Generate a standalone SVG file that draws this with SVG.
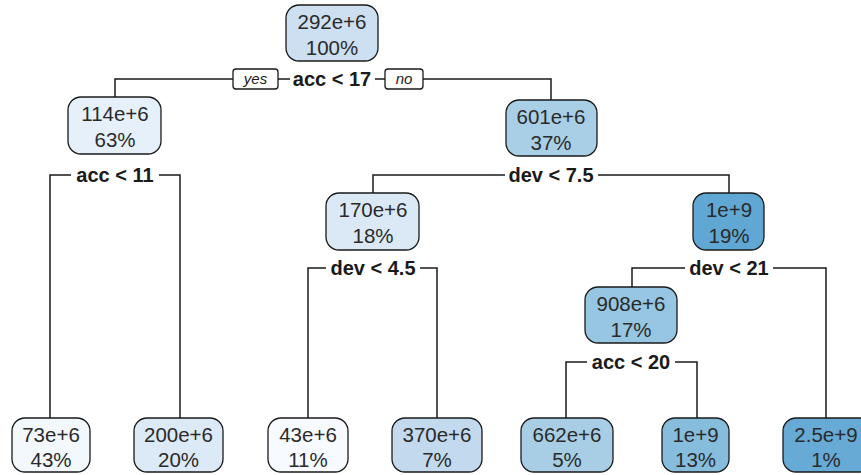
<svg xmlns="http://www.w3.org/2000/svg" width="861" height="475" viewBox="0 0 861 475">
<style>
.box{stroke:#1a1a1a;stroke-width:1.3}
.t{font-family:"Liberation Sans",Arial,sans-serif;font-size:20.5px;fill:#2a2a2a;text-anchor:middle}
.s{font-family:"Liberation Sans",Arial,sans-serif;font-size:20px;font-weight:bold;fill:#1a1a1a;text-anchor:middle}
.yn{font-family:"Liberation Sans",Arial,sans-serif;font-size:15px;font-style:italic;fill:#1a1a1a;text-anchor:middle}
.c{fill:none;stroke:#1a1a1a;stroke-width:1.5}
</style>
<rect width="861" height="475" fill="#ffffff"/>
<g id="connectors">
<path class="c" d="M115,97 V79 H233 M278,79 H290 M375,79 H385 M423,79 H551 V100"/>
<path class="c" d="M50,418 V175 H71 M159,175 H180 V418"/>
<path class="c" d="M373,193 V175 H505 M598,175 H729 V193"/>
<path class="c" d="M308,418 V268 H326 M420,268 H437 V418"/>
<path class="c" d="M632,287 V268 H685 M773,268 H826 V418"/>
<path class="c" d="M566,418 V362 H587 M675,362 H697 V418"/>
<rect class="box" x="233" y="69" width="45" height="20" rx="3" fill="#ffffff"/>
<text class="yn" x="255.5" y="84">yes</text>
<rect class="box" x="385" y="69" width="38" height="20" rx="3" fill="#ffffff"/>
<text class="yn" x="404" y="84">no</text>
<text class="s" x="332" y="86">acc &lt; 17</text>
<text class="s" x="115" y="182">acc &lt; 11</text>
<text class="s" x="551" y="182">dev &lt; 7.5</text>
<text class="s" x="373" y="275">dev &lt; 4.5</text>
<text class="s" x="729" y="275">dev &lt; 21</text>
<text class="s" x="631" y="369">acc &lt; 20</text>
</g>
<g id="n1">
<rect class="box" x="286" y="5" width="92" height="56" rx="13" fill="#cde0f1"/>
<text class="t" x="332" y="29">292e+6</text><text class="t" x="332" y="55">100%</text>
</g>
<g id="n2">
<rect class="box" x="68" y="97" width="93" height="57" rx="13" fill="#e6f0fa"/>
<text class="t" x="115" y="121">114e+6</text><text class="t" x="115" y="147">63%</text>
</g>
<g id="n3">
<rect class="box" x="506" y="100" width="91" height="56" rx="13" fill="#a9cfe6"/>
<text class="t" x="551" y="124">601e+6</text><text class="t" x="551" y="150">37%</text>
</g>
<g id="n6">
<rect class="box" x="326" y="193" width="93" height="57" rx="13" fill="#dbe9f6"/>
<text class="t" x="373" y="217">170e+6</text><text class="t" x="373" y="243">18%</text>
</g>
<g id="n7">
<rect class="box" x="693" y="193" width="71" height="57" rx="13" fill="#61a7d3"/>
<text class="t" x="729" y="217">1e+9</text><text class="t" x="729" y="243">19%</text>
</g>
<g id="n14">
<rect class="box" x="585" y="287" width="92" height="56" rx="13" fill="#96c6e1"/>
<text class="t" x="631" y="311">908e+6</text><text class="t" x="631" y="337">17%</text>
</g>
<g id="n4">
<rect class="box" x="12" y="418" width="78" height="54" rx="13" fill="#f3f8fd"/>
<text class="t" x="51" y="442">73e+6</text><text class="t" x="51" y="467">43%</text>
</g>
<g id="n5">
<rect class="box" x="134" y="418" width="89" height="54" rx="13" fill="#dce9f6"/>
<text class="t" x="178.5" y="442">200e+6</text><text class="t" x="178.5" y="467">20%</text>
</g>
<g id="n12">
<rect class="box" x="268" y="418" width="80" height="54" rx="13" fill="#f7fbff"/>
<text class="t" x="308" y="442">43e+6</text><text class="t" x="308" y="467">11%</text>
</g>
<g id="n13">
<rect class="box" x="392" y="418" width="90" height="54" rx="13" fill="#c3d9ee"/>
<text class="t" x="437" y="442">370e+6</text><text class="t" x="437" y="467">7%</text>
</g>
<g id="n28">
<rect class="box" x="521" y="418" width="92" height="54" rx="13" fill="#a8cee5"/>
<text class="t" x="567" y="442">662e+6</text><text class="t" x="567" y="467">5%</text>
</g>
<g id="n29">
<rect class="box" x="662" y="418" width="67" height="54" rx="13" fill="#86bddd"/>
<text class="t" x="695.5" y="442">1e+9</text><text class="t" x="695.5" y="467">13%</text>
</g>
<g id="n15">
<rect class="box" x="783" y="418" width="90" height="54" rx="13" fill="#66aad5"/>
<text class="t" x="826" y="442">2.5e+9</text><text class="t" x="826" y="467">1%</text>
</g>
</svg>
